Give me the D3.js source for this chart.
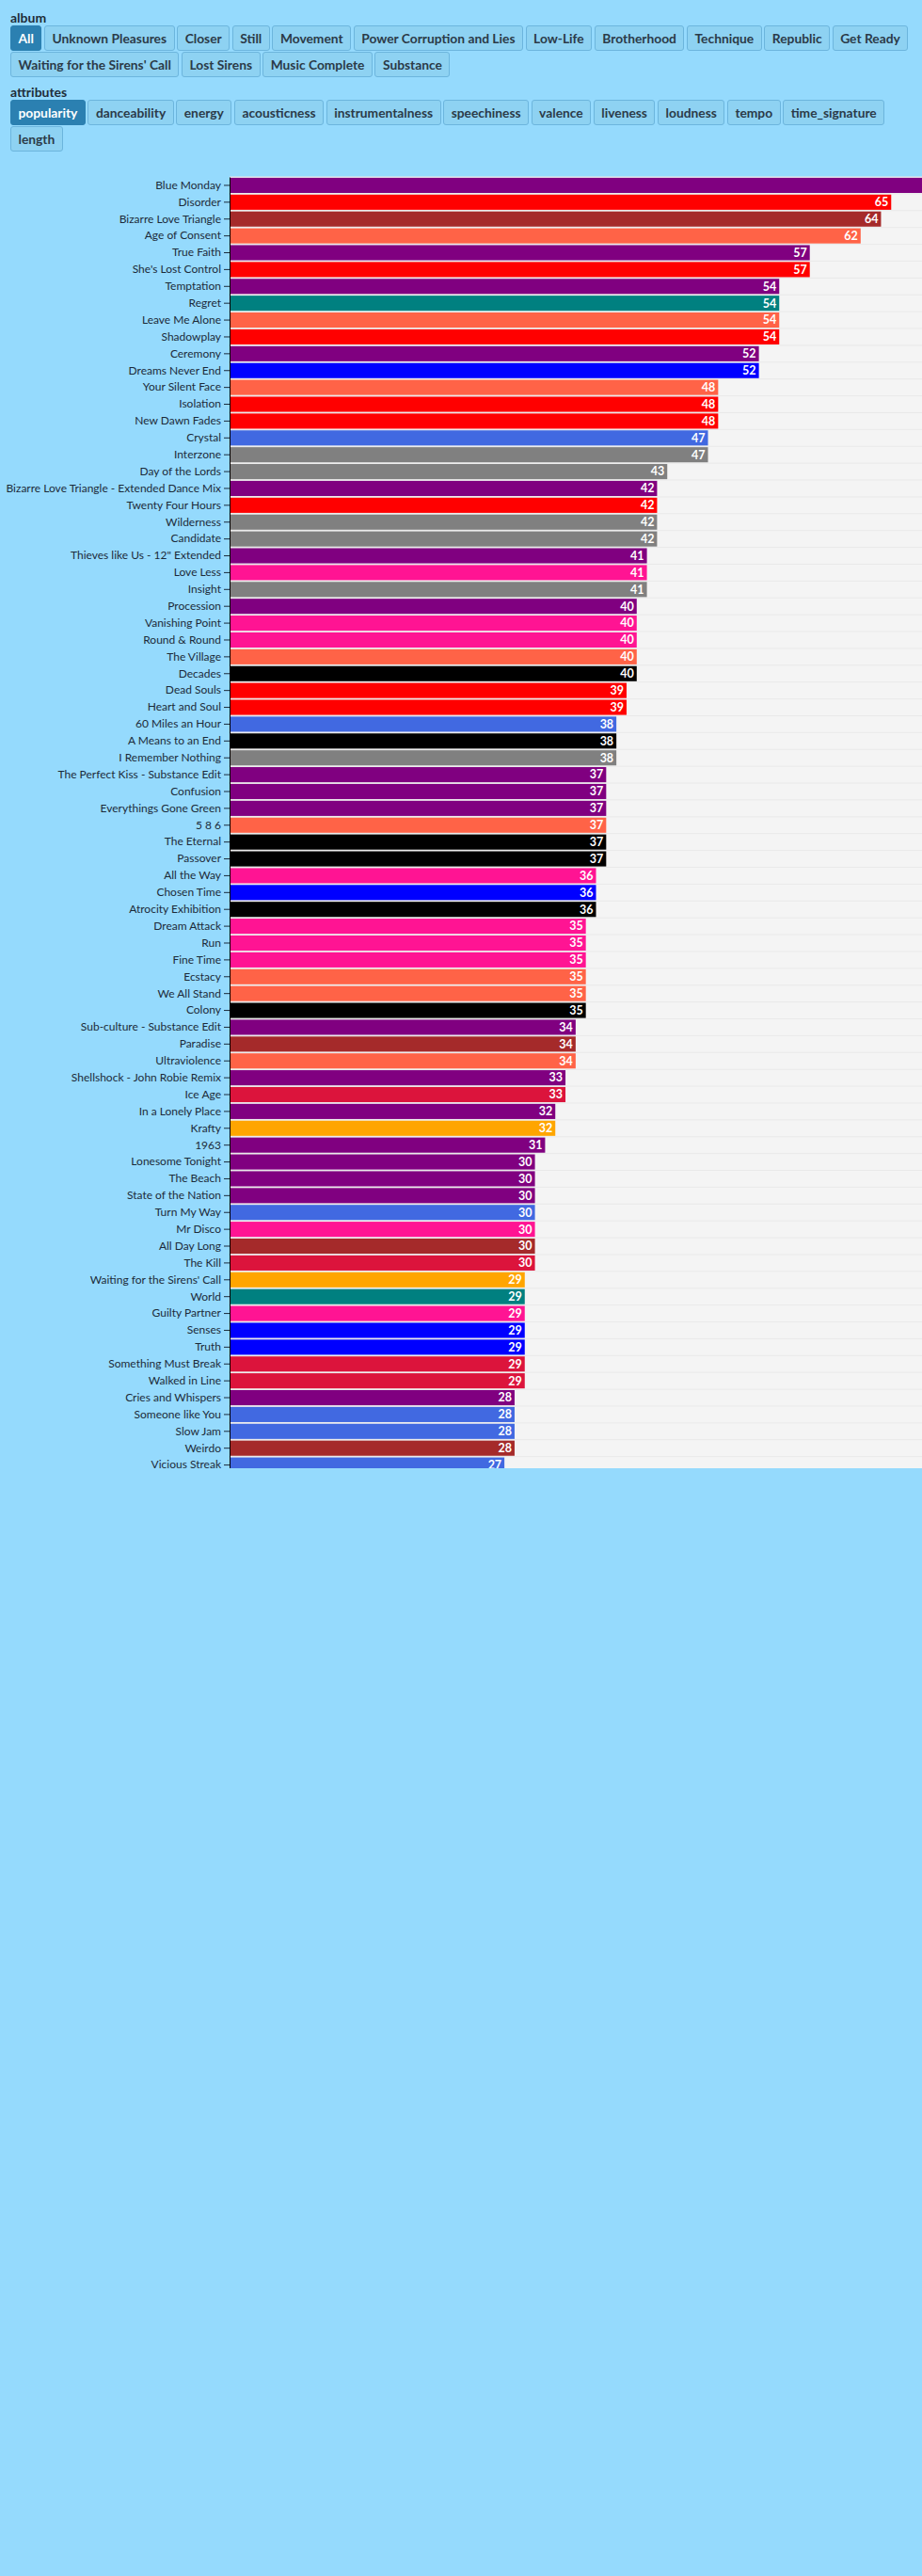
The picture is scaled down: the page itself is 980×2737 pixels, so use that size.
<!DOCTYPE html>
<html>
<head>
<meta charset="utf-8">
<script src="https://cdn.jsdelivr.net/npm/d3@7"></script>
<style>
body { margin: 0; background: #95dafd; font-family: Lato, sans-serif; overflow: hidden; }
#controls { position: absolute; left: 11px; top: 10px; width: 962px; }
.lbl { font-weight: bold; font-size: 14px; line-height: 17px; color: #1e2d3a; }
.grp + .grp { margin-top: 7px; }
.btns { display: flex; flex-wrap: wrap; gap: 1px 2.6px; }
.btn { box-sizing: border-box; height: 27px; line-height: 25px; padding: 0 7.5px;
       border: 1px solid #6cb5dd; border-radius: 3px; background: #8ed2f2;
       color: #2b3a48; font-weight: bold; font-size: 13.8px; white-space: nowrap; }
.btn.on { background: #2b80b1; border-color: #2b80b1; color: #fff; }
#chart { position: absolute; left: 0; top: 160px; }
</style>
</head>
<body>
<div id="controls"></div>
<div id="chart"></div>
<script>
var albums = ["Unknown Pleasures", "Closer", "Still", "Movement", "Power Corruption and Lies",
  "Low-Life", "Brotherhood", "Technique", "Republic", "Get Ready",
  "Waiting for the Sirens' Call", "Lost Sirens", "Music Complete", "Substance"];
var albumColors = ["#ff0000", "#000000", "#dc143c", "#0000ff", "#ff6347",
  "#808080", "#a52a2a", "#ff1493", "#008080", "#4169e1",
  "#ffa500", "#2e8b57", "#daa520", "#800080"];
var attributes = ["popularity", "danceability", "energy", "acousticness", "instrumentalness",
  "speechiness", "valence", "liveness", "loudness", "tempo", "time_signature", "length"];

var tracks = ["Blue Monday", "Disorder", "Bizarre Love Triangle", "Age of Consent", "True Faith",
  "She's Lost Control", "Temptation", "Regret", "Leave Me Alone", "Shadowplay",
  "Ceremony", "Dreams Never End", "Your Silent Face", "Isolation", "New Dawn Fades",
  "Crystal", "Interzone", "Day of the Lords", "Bizarre Love Triangle - Extended Dance Mix", "Twenty Four Hours",
  "Wilderness", "Candidate", "Thieves like Us - 12\" Extended", "Love Less", "Insight",
  "Procession", "Vanishing Point", "Round & Round", "The Village", "Decades",
  "Dead Souls", "Heart and Soul", "60 Miles an Hour", "A Means to an End", "I Remember Nothing",
  "The Perfect Kiss - Substance Edit", "Confusion", "Everythings Gone Green", "5 8 6", "The Eternal",
  "Passover", "All the Way", "Chosen Time", "Atrocity Exhibition", "Dream Attack",
  "Run", "Fine Time", "Ecstacy", "We All Stand", "Colony",
  "Sub-culture - Substance Edit", "Paradise", "Ultraviolence", "Shellshock - John Robie Remix", "Ice Age",
  "In a Lonely Place", "Krafty", "1963", "Lonesome Tonight", "The Beach",
  "State of the Nation", "Turn My Way", "Mr Disco", "All Day Long", "The Kill",
  "Waiting for the Sirens' Call", "World", "Guilty Partner", "Senses", "Truth",
  "Something Must Break", "Walked in Line", "Cries and Whispers", "Someone like You", "Slow Jam",
  "Weirdo", "Vicious Streak"];

var popularity = [72, 65, 64, 62, 57,
  57, 54, 54, 54, 54,
  52, 52, 48, 48, 48,
  47, 47, 43, 42, 42,
  42, 42, 41, 41, 41,
  40, 40, 40, 40, 40,
  39, 39, 38, 38, 38,
  37, 37, 37, 37, 37,
  37, 36, 36, 36, 35,
  35, 35, 35, 35, 35,
  34, 34, 34, 33, 33,
  32, 32, 31, 30, 30,
  30, 30, 30, 30, 30,
  29, 29, 29, 29, 29,
  29, 29, 28, 28, 28,
  28, 27];

var trackAlbum = ["Substance", "Unknown Pleasures", "Brotherhood", "Power Corruption and Lies", "Substance",
  "Unknown Pleasures", "Substance", "Republic", "Power Corruption and Lies", "Unknown Pleasures",
  "Substance", "Movement", "Power Corruption and Lies", "Unknown Pleasures", "Unknown Pleasures",
  "Get Ready", "Low-Life", "Low-Life", "Substance", "Unknown Pleasures",
  "Low-Life", "Low-Life", "Substance", "Technique", "Low-Life",
  "Substance", "Technique", "Technique", "Power Corruption and Lies", "Closer",
  "Unknown Pleasures", "Unknown Pleasures", "Get Ready", "Closer", "Low-Life",
  "Substance", "Substance", "Substance", "Power Corruption and Lies", "Closer",
  "Closer", "Technique", "Movement", "Closer", "Technique",
  "Technique", "Technique", "Power Corruption and Lies", "Power Corruption and Lies", "Closer",
  "Substance", "Brotherhood", "Power Corruption and Lies", "Substance", "Still",
  "Substance", "Waiting for the Sirens' Call", "Substance", "Substance", "Substance",
  "Substance", "Get Ready", "Technique", "Brotherhood", "Still",
  "Waiting for the Sirens' Call", "Republic", "Technique", "Movement", "Movement",
  "Still", "Still", "Substance", "Get Ready", "Get Ready",
  "Brotherhood", "Get Ready"];

// buttons
var controls = d3.select("#controls");
function group(label, items, active) {
  var g = controls.append("div").attr("class", "grp");
  g.append("div").attr("class", "lbl").text(label);
  g.append("div").attr("class", "btns")
    .selectAll("div").data(items).enter().append("div")
    .attr("class", function(d) { return d === active ? "btn on" : "btn"; })
    .text(function(d) { return d; });
}
group("album", ["All"].concat(albums), "All");
group("attributes", attributes, "popularity");

// chart
var margin = {top: 28, left: 244},
    svgWidth = 980,
    svgHeight = 1400,
    width = 779,
    rowStep = 17.89;

var data = tracks.map(function(t, i) {
  return {track: t, value: popularity[i], album: trackAlbum[i]};
});

var color = d3.scaleOrdinal().domain(albums).range(albumColors);

var x = d3.scaleLinear()
    .domain([0, d3.max(popularity)])
    .range([0, width]);

var y = d3.scaleBand()
    .domain(tracks)
    .range([0, rowStep * tracks.length])
    .paddingInner(0.1)
    .paddingOuter(0.05);

var svg = d3.select("#chart").append("svg")
    .attr("width", svgWidth)
    .attr("height", svgHeight)
    .style("display", "block")
  .append("g")
    .attr("transform", "translate(" + margin.left + "," + margin.top + ")");

// plot background
svg.append("rect")
    .attr("width", svgWidth - margin.left)
    .attr("height", svgHeight)
    .attr("fill", "#f4f4f4");

// row lines
svg.selectAll("line.row")
    .data(tracks)
    .enter().append("line")
    .attr("class", "row")
    .attr("x1", 0)
    .attr("x2", svgWidth - margin.left)
    .attr("y1", function(d) { return y(d) - y.step() * 0.05; })
    .attr("y2", function(d) { return y(d) - y.step() * 0.05; })
    .attr("stroke", "#e9e9e9")
    .attr("stroke-width", 1);

svg.selectAll("rect.bar")
    .data(data)
    .enter().append("rect")
    .attr("class", "bar")
    .attr("x", 0)
    .attr("y", function(d) { return y(d.track); })
    .attr("width", function(d) { return x(d.value); })
    .attr("height", y.bandwidth())
    .attr("fill", function(d) { return color(d.album); });

svg.selectAll("text.val")
    .data(data)
    .enter().append("text")
    .attr("class", "val")
    .attr("x", function(d) { return x(d.value) - 3; })
    .attr("y", function(d) { return y(d.track) + y.bandwidth() / 2; })
    .attr("dy", "0.35em")
    .attr("text-anchor", "end")
    .attr("fill", "#fff")
    .style("font-weight", "bold")
    .style("font-size", "12.5px")
    .style("font-family", "Lato, sans-serif")
    .text(function(d) { return d.value; });

var yAxis = svg.append("g")
    .attr("class", "axis")
    .style("color", "#1c2b3a")
    .call(d3.axisLeft(y).tickSizeOuter(0));
yAxis.selectAll("text")
    .style("font-size", "12px")
    .style("font-family", "Lato, sans-serif");
yAxis.select(".domain").attr("stroke", "#000");
</script>
</body>
</html>
